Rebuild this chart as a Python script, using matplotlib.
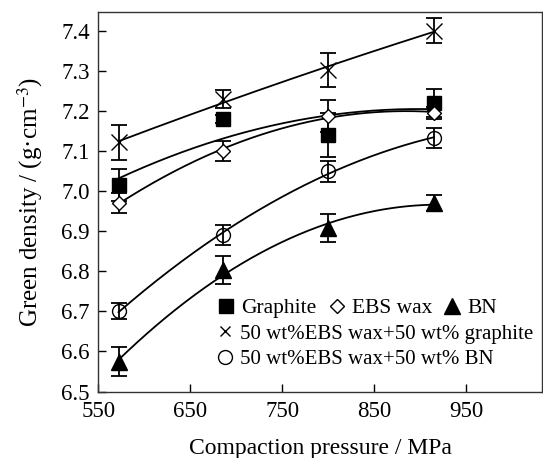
import matplotlib
matplotlib.use("Agg")
import matplotlib.pyplot as plt
import numpy as np

plt.rcParams['font.family'] = ['Liberation Serif', 'DejaVu Serif']
plt.rcParams['mathtext.fontset'] = 'stix'

pressure = [572, 686, 800, 915]

graphite = [7.015, 7.18, 7.14, 7.22]
graphite_err = [0.04, 0.01, 0.054, 0.035]
ebs = [6.97, 7.10, 7.188, 7.195]
ebs_err = [0.025, 0.025, 0.04, 0.015]
bn = [6.575, 6.803, 6.907, 6.97]
bn_err = [0.035, 0.035, 0.035, 0.02]
mix_gr = [7.121, 7.229, 7.302, 7.40]
mix_gr_err = [0.043, 0.022, 0.043, 0.032]
mix_bn = [6.70, 6.891, 7.049, 7.132]
mix_bn_err = [0.02, 0.025, 0.027, 0.025]

fig = plt.figure(figsize=(5.43, 4.58), dpi=100)
ax = fig.add_axes([0.181, 0.145, 0.8166, 0.8295])

series = [
    (graphite, graphite_err, dict(marker='s', ms=10, mfc='k', mec='k')),
    (ebs, ebs_err, dict(marker='D', ms=7.5, mfc='white', mec='k', mew=1.0)),
    (bn, bn_err, dict(marker='^', ms=11, mfc='k', mec='k')),
    (mix_gr, mix_gr_err, dict(marker='x', ms=11, mfc='k', mec='k', mew=1.0)),
    (mix_bn, mix_bn_err, dict(marker='o', ms=10, mfc='none', mec='k', mew=1.0)),
]

x = np.array(pressure, dtype=float)
xs = np.linspace(x[0], x[-1], 200)
for y, e, style in series:
    # quadratic trend line like in the paper
    coef = np.polyfit(x, y, 2)
    ax.plot(xs, np.polyval(coef, xs), color='k', lw=1.3, zorder=2)
    ax.errorbar(x, y, yerr=e, fmt='none', ecolor='k', elinewidth=1.3,
                capsize=6, capthick=1.3, zorder=3)
    ax.plot(x, y, ls='none', zorder=4, **style)

ax.set_xlim(550, 1032)
ax.set_ylim(6.5, 7.447)
ax.set_xticks([550, 650, 750, 850, 950])
ax.set_yticks(np.arange(6.5, 7.41, 0.1))
ax.yaxis.set_major_formatter(matplotlib.ticker.FormatStrFormatter('%.1f'))
ax.tick_params(direction='in', length=6, width=1, labelsize=16.5, pad=6)
ax.tick_params(axis='x', pad=7)
for s in ax.spines.values():
    s.set_linewidth(1)
    s.set_color('#333333')

ax.set_xlabel('Compaction pressure / MPa', fontsize=17, labelpad=11)
ax.set_ylabel('Green density / (g·cm$^{-3}$)', fontsize=18, labelpad=12)

h = lambda st: plt.Line2D([], [], ls='none', **st)
leg1 = ax.legend([h(series[0][2]), h(series[1][2]), h(series[2][2])],
                 ['Graphite', 'EBS wax', 'BN'], ncol=3, frameon=False,
                 loc='upper left', bbox_to_anchor=(215 / 543, 1 - 298 / 458),
                 bbox_transform=fig.transFigure, fontsize=15.5, borderpad=0,
                 borderaxespad=0, handlelength=1.0, handletextpad=0.2,
                 columnspacing=0.45)
ax.add_artist(leg1)
small_x = dict(series[3][2], ms=7)
ax.legend([h(small_x), h(series[4][2])],
          ['50 wt%EBS wax+50 wt% graphite', '50 wt%EBS wax+50 wt% BN'],
          frameon=False, loc='upper left',
          bbox_to_anchor=(215 / 543, 1 - 324 / 458),
          bbox_transform=fig.transFigure, fontsize=15, borderpad=0,
          borderaxespad=0, handlelength=1.0, handletextpad=0.2,
          labelspacing=0.3)

fig.savefig('out.png', dpi=100)
